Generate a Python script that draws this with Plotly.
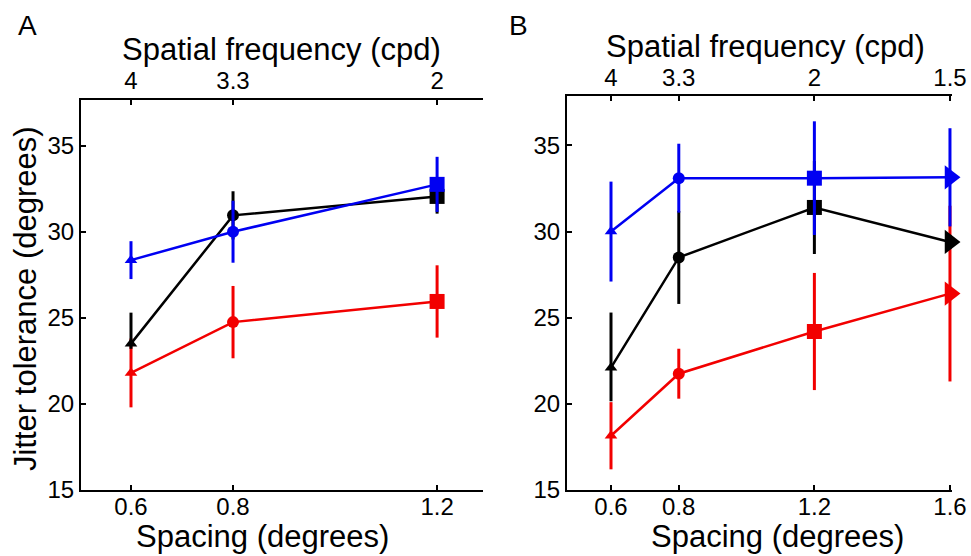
import plotly.graph_objects as go

# ---------------- data ----------------
spacing_A = [0.6, 0.8, 1.2]
sf_A = ["4", "3.3", "2"]
spacing_B = [0.6, 0.8, 1.2, 1.6]
sf_B = ["4", "3.3", "2", "1.5"]

# Panel A
blue_A = [28.35, 30.0, 32.75]
blue_A_err = [1.1, 1.8, 1.6]
black_A = [23.5, 30.95, 32.05]
black_A_up = [1.8, 1.4, 1.0]
black_A_dn = [0.3, 1.4, 1.0]
red_A = [21.8, 24.75, 25.95]
red_A_err = [2.0, 2.1, 2.1]

# Panel B
blue_B = [30.0, 33.1, 33.1, 33.15]
blue_B_err = [2.9, 2.0, 3.3, 2.85]
black_B = [22.1, 28.5, 31.4, 29.4]
black_B_up = [3.2, 2.7, 2.7, 0.4]
black_B_dn = [1.95, 2.7, 2.7, 0.4]
red_B = [18.15, 21.75, 24.2, 26.4]
red_B_err = [1.95, 1.45, 3.4, 5.1]

symbols_A = ["triangle-up", "circle", "square"]
symbols_B = ["triangle-up", "circle", "square", "triangle-right"]
sizes_A = [11, 12, 15]
sizes_B = [11, 12, 15, 21]

BLUE = "#0000f2"
RED = "#f20000"
BLACK = "#000000"

FONT = "Liberation Sans, Arial, Helvetica, sans-serif"
W, H = 971, 556

fig = go.Figure()


def add_series(x, y, up, dn, color, symbols, sizes, xa, ya):
    fig.add_trace(go.Scatter(
        x=x, y=y, mode="lines+markers",
        line=dict(color=color, width=2.5),
        marker=dict(color=color, symbol=symbols, size=sizes, opacity=1, line=dict(width=0)),
        error_y=dict(type="data", array=up, arrayminus=dn, symmetric=False,
                     color=color, thickness=3, width=0),
        xaxis=xa, yaxis=ya, showlegend=False, cliponaxis=False,
    ))


# draw order: red, black, blue
add_series(spacing_A, red_A, red_A_err, red_A_err, RED, symbols_A, sizes_A, "x", "y")
add_series(spacing_A, black_A, black_A_up, black_A_dn, BLACK, symbols_A, sizes_A, "x", "y")
add_series(spacing_A, blue_A, blue_A_err, blue_A_err, BLUE, symbols_A, sizes_A, "x", "y")

add_series(spacing_B, red_B, red_B_err, red_B_err, RED, symbols_B, sizes_B, "x2", "y2")
add_series(spacing_B, black_B, black_B_up, black_B_dn, BLACK, symbols_B, sizes_B, "x2", "y2")
add_series(spacing_B, blue_B, blue_B_err, blue_B_err, BLUE, symbols_B, sizes_B, "x2", "y2")

# invisible traces so the top axes render
fig.add_trace(go.Scatter(x=[spacing_A[0]], y=[20], xaxis="x3", yaxis="y",
                         mode="markers", marker=dict(opacity=0), showlegend=False, hoverinfo="skip"))
fig.add_trace(go.Scatter(x=[spacing_B[0]], y=[20], xaxis="x4", yaxis="y2",
                         mode="markers", marker=dict(opacity=0), showlegend=False, hoverinfo="skip"))


def px_x(p):
    return p / W


def px_y(p):
    return (H - p) / H


rangeA = [0.502, 1.29]
rangeB = [0.4702, 1.606]
domA = [px_x(81), px_x(483)]
domB = [px_x(567), px_x(952)]
ydomA = [px_y(490), px_y(100)]
ydomB = [px_y(490), px_y(96)]

tickfont = dict(family=FONT, size=24, color="black")
common_x = dict(showline=True, linewidth=2, linecolor="black", ticks="inside",
                ticklen=5, tickwidth=1.5, tickcolor="black", showgrid=False,
                zeroline=False, tickfont=tickfont, automargin=False)
common_y = dict(showline=True, linewidth=2, linecolor="black", ticks="inside",
                ticklen=5, tickwidth=1.5, tickcolor="black", showgrid=False,
                zeroline=False, tickfont=tickfont, tickvals=[15, 20, 25, 30, 35],
                automargin=False)

fig.update_layout(
    width=W, height=H,
    margin=dict(l=0, r=0, t=0, b=0, pad=0),
    paper_bgcolor="white", plot_bgcolor="white",
    font=dict(family=FONT, color="black"),
    xaxis=dict(domain=domA, range=rangeA, anchor="y", tickvals=spacing_A,
               ticktext=[str(v) for v in spacing_A], ticklabelstandoff=-6, **common_x),
    xaxis3=dict(domain=domA, range=rangeA, anchor="y", overlaying="x", side="top",
                tickvals=spacing_A, ticktext=sf_A, ticklabelstandoff=-1, **common_x),
    yaxis=dict(domain=ydomA, range=[15, 37.65], anchor="x", **common_y),
    xaxis2=dict(domain=domB, range=rangeB, anchor="y2", tickvals=spacing_B,
                ticktext=[str(v) for v in spacing_B], ticklabelstandoff=-6, **common_x),
    xaxis4=dict(domain=domB, range=rangeB, anchor="y2", overlaying="x2", side="top",
                tickvals=spacing_B, ticktext=sf_B, ticklabelstandoff=-2, **common_x),
    yaxis2=dict(domain=ydomB, range=[15, 37.87], anchor="x2", **common_y),
)

title_font = dict(family=FONT, size=31, color="black")
ann = [
    dict(text="A", x=px_x(27.5), y=px_y(25), font=dict(family=FONT, size=28, color="black")),
    dict(text="B", x=px_x(518), y=px_y(25), font=dict(family=FONT, size=28, color="black")),
    dict(text="Spatial frequency (cpd)", x=px_x(281), y=px_y(49), font=title_font),
    dict(text="Spatial frequency (cpd)", x=px_x(765), y=px_y(46), font=title_font),
    dict(text="Spacing (degrees)", x=px_x(262), y=px_y(536), font=title_font),
    dict(text="Spacing (degrees)", x=px_x(777), y=px_y(536), font=title_font),
    dict(text="Jitter tolerance (degrees)", x=px_x(25), y=px_y(299), font=title_font, textangle=-90),
]
for a in ann:
    fig.add_annotation(xref="paper", yref="paper", showarrow=False,
                       xanchor="center", yanchor="middle", **a)

fig.write_html("out.html")
